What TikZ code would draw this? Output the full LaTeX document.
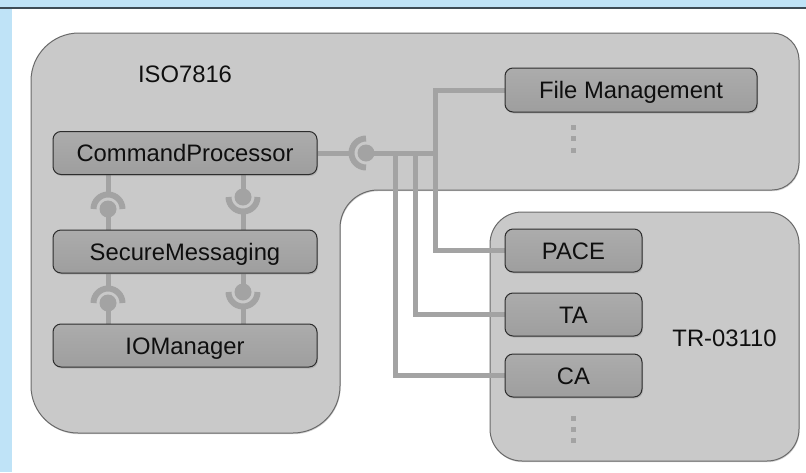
\documentclass[tikz,border=0pt]{standalone}
\usepackage{fontspec}
\setmainfont{Liberation Sans}
\usetikzlibrary{shadows,calc}

\definecolor{frameblue}{RGB}{191,227,247}
\definecolor{frameline}{RGB}{62,76,86}
\definecolor{panel}{RGB}{201,201,201}
\definecolor{panelline}{RGB}{105,105,105}
\definecolor{wirecol}{RGB}{163,163,163}
\definecolor{boxtop}{RGB}{172,172,172}
\definecolor{boxbot}{RGB}{158,158,158}
\definecolor{boxline}{RGB}{45,45,45}
\definecolor{ink}{RGB}{15,15,15}

\pgfdeclarelayer{back}
\pgfdeclarelayer{wires}
\pgfsetlayers{back,wires,main}

\begin{document}
\begin{tikzpicture}[x=1pt,y=-1pt,
  every node/.style={font=\fontsize{23.8}{28}\selectfont, text=ink, inner sep=0pt,
    text height=17pt, text depth=0pt},
  container/.style={fill=panel, draw=panelline, line width=1pt,
    drop shadow={opacity=0.35, shadow xshift=0.6pt, shadow yshift=-1.2pt}},
  module/.style={draw=boxline, line width=1pt, rounded corners=8pt,
    top color=boxtop, bottom color=boxbot, minimum height=43pt,
    drop shadow={opacity=0.3, shadow xshift=1pt, shadow yshift=-1.5pt}},
  wire/.style={draw=wirecol, line width=5pt},
  sock/.style={draw=wirecol, line width=6pt},
  ball/.style={circle, fill=wirecol, minimum size=17pt, text height=0pt}
]
\useasboundingbox (0,0) rectangle (806,472);

\begin{pgfonlayer}{back}
% page frame
\fill[white] (0,0) rectangle (806,472);
\fill[frameblue] (0,0) rectangle (806,8);
\fill[frameblue] (0,8) rectangle (12,472);
\draw[frameline, line width=1.4pt] (0,7.8) -- (806,7.8);

% ISO7816 container (L-shaped); each radius is set before the segment that reaches its corner
\path[container] (31,240) [rounded corners=48pt] -- (31,33)
  [rounded corners=27pt] -- (799,33) -- (799,190)
  [rounded corners=38pt] -- (340,190)
  [rounded corners=47pt] -- (340,433) -- (31,433)
  [sharp corners] -- cycle;

% TR-03110 container
\node[container, rounded corners=32pt, minimum width=309pt, minimum height=249pt]
  (tr) at (644.5,336.5) {};
\end{pgfonlayer}

% container titles
\node (iso) at (185,73.5) {ISO7816};
\node (trl) at (724.5,337.5) {TR-03110};

% modules
\node[module, minimum width=264pt] (cp)  at (185,153)   {CommandProcessor};
\node[module, minimum width=264pt] (sm)  at (185,251.5) {SecureMessaging};
\node[module, minimum width=264pt] (iom) at (185,345.5) {IOManager};
\node[module, minimum width=252pt, minimum height=44pt] (fm) at (631,90) {File Management};
\node[module, minimum width=137pt] (pace) at (573.5,250.5) {PACE};
\node[module, minimum width=137pt] (ta)   at (573.5,314.5) {TA};
\node[module, minimum width=137pt] (ca)   at (573.5,375.5) {CA};

% bus junctions
\coordinate (bus) at (366,153);
\coordinate (j1) at (395,153);
\coordinate (j2) at (415,153);
\coordinate (j3) at (435,153);

% interface balls
\coordinate (b1) at (108,209);
\coordinate (b2) at (243,197);
\coordinate (b3) at (108,303);
\coordinate (b4) at (243,292);

\begin{pgfonlayer}{wires}
% bus wiring
\draw[wire] (cp.east) -- ($(bus)+(-17,0)$);
\draw[wire] (bus) -- (j3);
\draw[wire] (fm.west) -| (j3) |- (pace.west);
\draw[wire] (j2) |- (ta.west);
\draw[wire] (j1) |- (ca.west);

% CommandProcessor <-> SecureMessaging
\draw[wire] (cp.south -| b1) -- ($(b1)+(0,-17)$);
\draw[wire] (b1) -- (sm.north -| b1);
\draw[wire] (cp.south -| b2) -- (b2);
\draw[wire] ($(b2)+(0,17)$) -- (sm.north -| b2);

% SecureMessaging <-> IOManager
\draw[wire] (sm.south -| b3) -- ($(b3)+(0,-17)$);
\draw[wire] (b3) -- (iom.north -| b3);
\draw[wire] (sm.south -| b4) -- (b4);
\draw[wire] ($(b4)+(0,17)$) -- (iom.north -| b4);
\end{pgfonlayer}

% balls and sockets
\node[ball] (k0) at (bus) {};
\draw[sock] ($(bus)+(0,-14.5)$) arc[start angle=270, end angle=90, radius=14.5];

\node[ball] (k1) at (b1) {};
\draw[sock] ($(b1)+(-14.5,0)$) arc[start angle=180, end angle=360, radius=14.5];
\node[ball] (k2) at (b2) {};
\draw[sock] ($(b2)+(14.5,0)$) arc[start angle=0, end angle=180, radius=14.5];

\node[ball] (k3) at (b3) {};
\draw[sock] ($(b3)+(-14.5,0)$) arc[start angle=180, end angle=360, radius=14.5];
\node[ball] (k4) at (b4) {};
\draw[sock] ($(b4)+(14.5,0)$) arc[start angle=0, end angle=180, radius=14.5];

% continuation marks
\foreach \y in {124.5,136,147.5} \fill[wirecol] (570.5,\y) rectangle ++(5,5);
\foreach \y in {415.5,426.5,437.5} \fill[wirecol] (570.5,\y) rectangle ++(5,5);
\end{tikzpicture}
\end{document}
